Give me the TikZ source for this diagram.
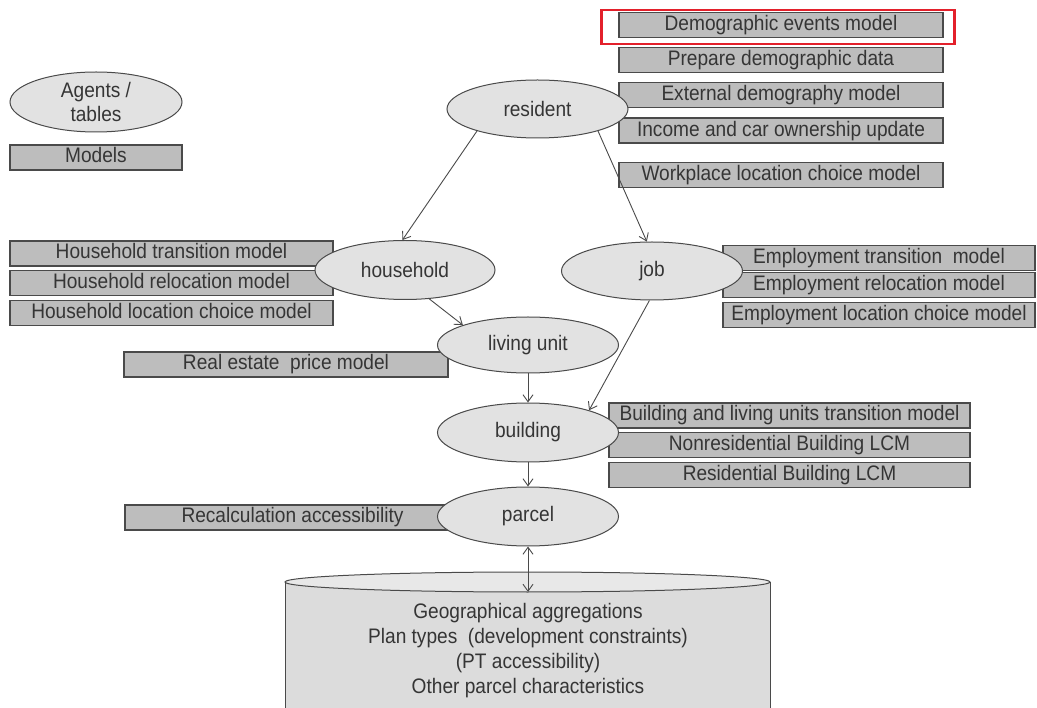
\documentclass[tikz,border=0pt]{standalone}
\usepackage{fontspec}
\setmainfont{Liberation Sans}[FakeStretch=0.91]
\usetikzlibrary{positioning,calc,shapes.geometric,arrows.meta}

\definecolor{boxgray}{HTML}{BDBDBD}
\definecolor{ellgray}{HTML}{E2E2E2}
\definecolor{edgegray}{HTML}{4A4A4A}
\definecolor{txtgray}{HTML}{353535}
\definecolor{cylbody}{HTML}{DCDCDC}
\definecolor{cylcap}{HTML}{E8E8E8}
\definecolor{hilite}{HTML}{E3202B}

\begin{document}
\begin{tikzpicture}[x=1pt,y=-1pt,
      agent/.style = {ellipse, draw=edgegray, line width=1pt, fill=ellgray,
         text=txtgray, inner sep=0pt, minimum width=181pt, minimum height=58pt,
         align=center, font=\fontsize{21}{24}\selectfont},
      model/.style = {rectangle, draw=edgegray, line width=1.2pt, fill=boxgray,
         text=txtgray, inner sep=0pt, minimum height=25pt, text height=15pt,
         text depth=4pt, font=\fontsize{21}{24}\selectfont},
      flow/.style = {draw=edgegray, line width=0.9pt,
         -{Straight Barb[length=7pt,width=10pt]}}
]
   \useasboundingbox (0,0) rectangle (1037,708);
   \fill[white] (0,0) rectangle (1037,708);

   % legend
   \node[model, minimum width=172pt] (leg2) at (96,157.5) {Models};

   % models of the resident
   \node[model, minimum width=324pt]                   (dem)  at (781,25) {Demographic events model};
   \node[model, minimum width=324pt, below=9pt of dem]  (prep) {Prepare demographic data};
   \node[model, minimum width=324pt, below=9pt of prep] (ext)  {External demography model};
   \node[model, minimum width=324pt, below=9pt of ext]  (inc)  {Income and car ownership update};
   \node[model, minimum width=324pt, below=18pt of inc] (work) {Workplace location choice model};

   % household models
   \node[model, minimum width=323pt]                  (hh1) at (171.5,253.5) {Household transition model};
   \node[model, minimum width=323pt, below=3pt of hh1] (hh2) {Household relocation model};
   \node[model, minimum width=323pt, below=4pt of hh2] (hh3) {Household location choice model};

   % employment models
   \node[model, minimum width=312pt]                  (emp1) at (879,258) {Employment transition~ model};
   \node[model, minimum width=312pt, below=1pt of emp1] (emp2) {Employment relocation model};
   \node[model, minimum width=312pt, below=4pt of emp2] (emp3) {Employment location choice model};

   \node[model, minimum width=324pt] (price) at (286,364.5) {Real estate~ price model};

   % building models
   \node[model, minimum width=361pt]                   (bm1) at (789.5,415.5) {Building and living units transition model};
   \node[model, minimum width=361pt, below=3pt of bm1]  (bm2) {Nonresidential Building LCM};
   \node[model, minimum width=361pt, below=4pt of bm2]  (bm3) {Residential Building LCM};

   \node[model, minimum width=335pt] (acc) at (292.5,517.5) {Recalculation accessibility};

   % parcel data store
   \fill[cylbody] (285,582) -- (285,730) -- (770,730) -- (770,582) -- cycle;
   \draw[edgegray, line width=1pt] (285,582) -- (285,730) (770,582) -- (770,730);
   \draw[edgegray, line width=1pt, fill=cylcap] (527.5,582) ellipse [x radius=242.5, y radius=10];
   \coordinate (cyltop) at (528,592);
   \node[text=txtgray, align=center, font=\fontsize{21}{25}\selectfont] (geo) at (528,651)
      {Geographical aggregations\\Plan types~ (development constraints)\\(PT accessibility)\\Other parcel characteristics};

   % agents / tables
   \node[agent, minimum width=172pt, minimum height=60pt] (leg1) at (96,102) {Agents /\\tables};
   \node[agent] (res) at (537.5,109) {resident};
   \node[agent, minimum width=180pt, minimum height=59pt] (hh) at (405,270) {household};
   \node[agent] (job) at (652,271) {job};
   \node[agent, minimum height=56pt] (lu)  at (528,345) {living unit};
   \node[agent, minimum height=59pt] (bld) at (528,432.5) {building};
   \node[agent, minimum height=59pt] (par) at (528,516.5) {parcel};

   % links
   \draw[flow] (res.200) -- (hh.95);
   \draw[flow] (res.-20) -- (job.100);
   \draw[flow] (hh.-50) -- (lu.163);
   \draw[flow] (job.265) -- (bld.20);
   \draw[flow] (lu) -- (bld);
   \draw[flow] (bld) -- (par);
   \draw[flow, {Straight Barb[length=7pt,width=10pt]}-{Straight Barb[length=7pt,width=10pt]}] (par) -- (cyltop);

   % highlighted model
   \draw[hilite, line width=2.5pt] ($(dem.north west)+(-17,-2)$) rectangle ($(dem.south east)+(11,6)$);
\end{tikzpicture}
\end{document}
